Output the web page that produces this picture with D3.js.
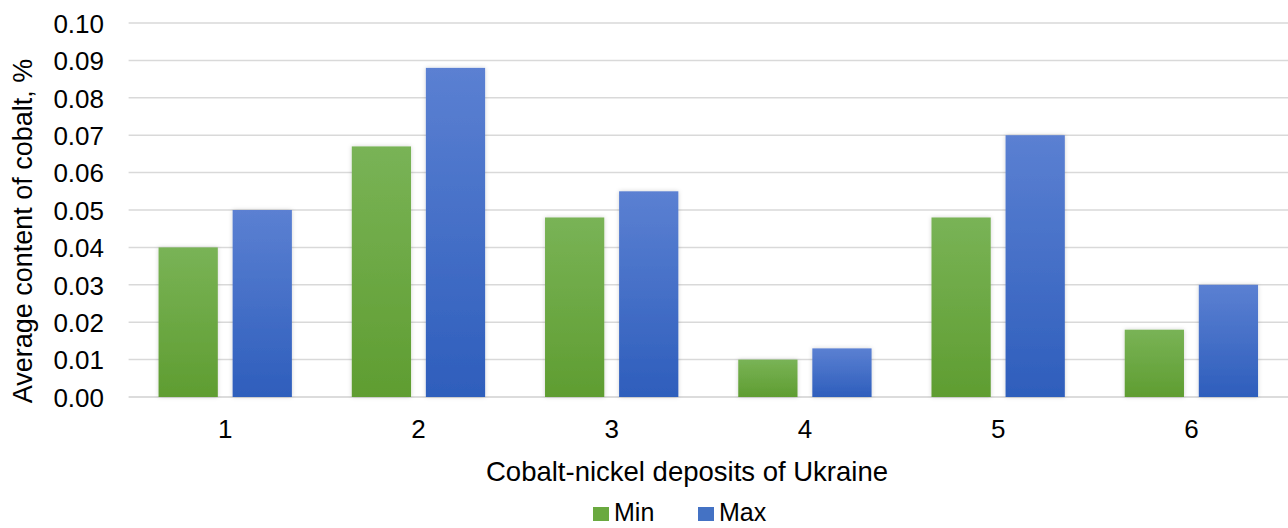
<!DOCTYPE html>
<html><head><meta charset="utf-8">
<script src="https://cdn.jsdelivr.net/npm/d3@7"></script>
<style>html,body{margin:0;padding:0;background:#fff;overflow:hidden}text{font-family:"Liberation Sans",Arial,sans-serif;fill:#000}</style>
</head><body>
<svg id="c" width="1288" height="528"></svg>
<script>
const categories = ["1","2","3","4","5","6"];
const seriesNames = ["Min","Max"];
const minValues = [0.040,0.067,0.048,0.010,0.048,0.018];
const maxValues = [0.050,0.088,0.055,0.013,0.070,0.030];
const yTicks = [0,0.01,0.02,0.03,0.04,0.05,0.06,0.07,0.08,0.09,0.10];

const svg = d3.select("#c");
const m = {l:128.6, r:1288, t:23, b:397};
const x = d3.scaleBand().domain(categories).range([m.l, m.r]).paddingInner(0.31).paddingOuter(0.155);
const x1 = d3.scaleBand().domain(seriesNames).range([0, x.bandwidth()]).paddingInner(0.2);
const y = d3.scaleLinear().domain([0,0.10]).range([m.b, m.t]);

const defs = svg.append("defs");
const grads = {Min:["#79b356","#5f9d31"], Max:["#5b80d2","#2e5ebc"]};
Object.entries(grads).forEach(([k,c])=>{
  const g = defs.append("linearGradient").attr("id","g"+k).attr("x1",0).attr("y1",0).attr("x2",0).attr("y2",1);
  g.append("stop").attr("offset",0).attr("stop-color",c[0]);
  g.append("stop").attr("offset",1).attr("stop-color",c[1]);
});
const f = defs.append("filter").attr("id","sh").attr("x","-20%").attr("y","-20%").attr("width","140%").attr("height","140%");
f.append("feDropShadow").attr("dx",0).attr("dy",0).attr("stdDeviation",2).attr("flood-color","#000").attr("flood-opacity",0.18);

// gridlines
svg.append("g").selectAll("line").data(yTicks).join("line")
  .attr("x1",m.l).attr("x2",m.r).attr("y1",d=>y(d)).attr("y2",d=>y(d))
  .attr("stroke",d=>d===0?"#d0d0d0":"#d9d9d9").attr("stroke-width",1.5);

// y axis labels
const yAxis = d3.axisLeft(y).tickValues(yTicks).tickFormat(d3.format(".2f")).tickSize(0).tickPadding(0);
const ya = svg.append("g").attr("transform",`translate(104,0)`).call(yAxis);
ya.select(".domain").remove();
ya.selectAll("text").attr("font-size",26).attr("font-family","Liberation Sans, Arial, sans-serif").attr("fill","#000").attr("dy","0.36em");

// x axis labels
const xAxis = d3.axisBottom(x).tickSize(0).tickPadding(0);
const xa = svg.append("g").attr("transform",`translate(0,0)`).call(xAxis);
xa.select(".domain").remove();
xa.selectAll("text").attr("font-size",26).attr("font-family","Liberation Sans, Arial, sans-serif").attr("fill","#000").attr("dy",null).attr("y",438);

// bars
const data = categories.map((c,i)=>({c, vals:[{k:"Min",v:minValues[i]},{k:"Max",v:maxValues[i]}]}));
svg.append("g").selectAll("g").data(data).join("g")
  .attr("transform",d=>`translate(${x(d.c)},0)`)
  .selectAll("rect").data(d=>d.vals).join("rect")
  .attr("x",d=>x1(d.k)).attr("width",x1.bandwidth())
  .attr("y",d=>y(d.v)).attr("height",d=>y(0)-y(d.v))
  .attr("fill",d=>`url(#g${d.k})`).attr("filter","url(#sh)");

// axis titles
svg.append("text").attr("transform","translate(32,231) rotate(-90)").attr("text-anchor","middle")
  .attr("font-size",27).text("Average content of cobalt, %");
svg.append("text").attr("x",687).attr("y",481).attr("text-anchor","middle")
  .attr("font-size",27.5).text("Cobalt-nickel deposits of Ukraine");

// legend
const leg = [{k:"Min",x:593,c:"#6aa93f"},{k:"Max",x:698,c:"#4472c4"}];
const lg = svg.append("g").selectAll("g").data(leg).join("g").attr("transform",d=>`translate(${d.x},0)`);
lg.append("rect").attr("x",0).attr("y",507).attr("width",16).attr("height",14).attr("fill",d=>d.c);
lg.append("text").attr("x",21).attr("y",521).attr("font-size",25).text(d=>d.k);
</script>
</body></html>
